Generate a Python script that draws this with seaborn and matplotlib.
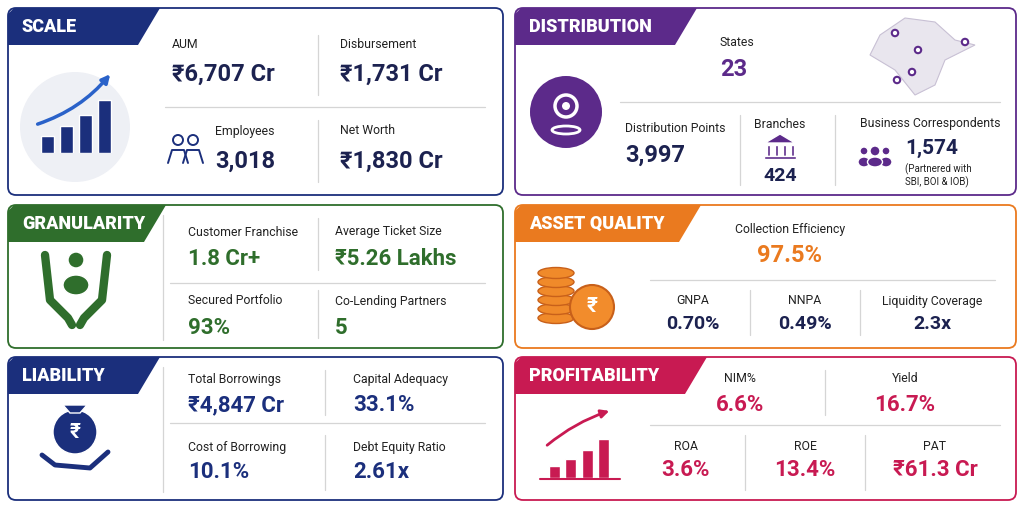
import matplotlib
matplotlib.use("Agg")
import matplotlib.pyplot as plt
import seaborn as sns
import pandas as pd
from matplotlib.patches import FancyBboxPatch, Polygon, Circle, Rectangle, Ellipse

sns.set_theme(style="white")
plt.rcParams['font.family'] = ['Roboto', 'DejaVu Sans']

NAVY, PURPLE, GREEN, ORANGE, CRIMSON = "#1b2f7c", "#5c2a8a", "#2f6e2c", "#ea7a1f", "#c81a52"
DARK = "#1c2250"

panel_titles = ["SCALE", "DISTRIBUTION", "GRANULARITY", "ASSET QUALITY", "LIABILITY", "PROFITABILITY"]
scale_labels = ["AUM", "Disbursement", "Employees", "Net Worth"]
scale_values = ["₹6,707 Cr", "₹1,731 Cr", "3,018", "₹1,830 Cr"]
dist_labels = ["States", "Distribution Points", "Branches", "Business Correspondents"]
dist_values = ["23", "3,997", "424", "1,574"]
dist_note = "(Partnered with\nSBI, BOI & IOB)"
gran_labels = ["Customer Franchise", "Average Ticket Size", "Secured Portfolio", "Co-Lending Partners"]
gran_values = ["1.8 Cr+", "₹5.26 Lakhs", "93%", "5"]
aq_labels = ["Collection Efficiency", "GNPA", "NNPA", "Liquidity Coverage"]
aq_values = ["97.5%", "0.70%", "0.49%", "2.3x"]
liab_labels = ["Total Borrowings", "Capital Adequacy", "Cost of Borrowing", "Debt Equity Ratio"]
liab_values = ["₹4,847 Cr", "33.1%", "10.1%", "2.61x"]
prof_labels = ["NIM%", "Yield", "ROA", "ROE", "PAT"]
prof_values = ["6.6%", "16.7%", "3.6%", "13.4%", "₹61.3 Cr"]
icon_bars = [1.0, 1.6, 2.3, 3.2]

fig = plt.figure(figsize=(10.24, 5.12), dpi=100)
ax = fig.add_axes([0, 0, 1, 1])
ax.set_xlim(0, 1024); ax.set_ylim(512, 0); ax.axis("off")

def panel(x0, y0, x1, y1, color, title, tabw):
    ax.add_patch(FancyBboxPatch((x0, y0), x1 - x0, y1 - y0, boxstyle="round,pad=0,rounding_size=8",
                                fc="white", ec=color, lw=1.3, zorder=1))
    ax.add_patch(Polygon([(x0, y0 + 6), (x0 + 6, y0), (x0 + tabw, y0), (x0 + tabw - 22, y0 + 37), (x0, y0 + 37)],
                         closed=True, fc=color, ec="none", zorder=2))
    ax.text(x0 + 14, y0 + 19, title, color="white", fontsize=13, fontweight="heavy", va="center", zorder=3)

def lab(x, y, s, ha="left", size=8.8):
    ax.text(x, y, s, fontsize=size, color="#222", ha=ha, va="center", zorder=3)

def val(x, y, s, color, ha="left", size=16):
    ax.text(x, y, s, fontsize=size, color=color, ha=ha, va="center", fontweight="semibold", zorder=3)

def hl(x0, x1, y): ax.plot([x0, x1], [y, y], color="#d5d5d5", lw=0.9, zorder=2)
def vl(x, y0, y1): ax.plot([x, x], [y0, y1], color="#d5d5d5", lw=0.9, zorder=2)

# SCALE
panel(8, 8, 503, 195, NAVY, panel_titles[0], 152)
ax.add_patch(Circle((75, 127), 55, fc="#eef0f5", ec="none", zorder=2))
pos = [(172, 44), (340, 44), (215, 131), (340, 131)]
for (x, y), l, v in zip(pos, scale_labels, scale_values):
    lab(x, y, l); val(x, y + 30, v, DARK, size=17)
hl(165, 485, 107); vl(318, 35, 95); vl(318, 120, 182)
ax.add_patch(Circle((178, 140), 5, fc="none", ec=NAVY, lw=1.4, zorder=3))
ax.add_patch(Circle((193, 140), 5, fc="none", ec=NAVY, lw=1.4, zorder=3))
ax.plot([168, 172, 184, 188], [163, 150, 150, 163], color=NAVY, lw=1.4, zorder=3)
ax.plot([183, 187, 199, 203], [163, 150, 150, 163], color=NAVY, lw=1.4, zorder=3)
ax.annotate("", xy=(112, 72), xytext=(35, 125),
            arrowprops=dict(arrowstyle="-|>", color="#2a62c9", lw=2.5, connectionstyle="arc3,rad=0.15"), zorder=4)

# DISTRIBUTION
panel(515, 8, 1016, 195, PURPLE, panel_titles[1], 182)
lab(720, 42, dist_labels[0]); val(720, 70, dist_values[0], PURPLE, size=17)
ax.add_patch(Polygon([(880, 35), (905, 18), (935, 22), (955, 40), (975, 45), (945, 60), (935, 85), (915, 95), (895, 70), (870, 55)],
                     fc="#e9e6ee", ec="#c8c0d4", lw=0.8, zorder=2))
for px, py in [(895, 33), (918, 50), (965, 42), (912, 72), (897, 80)]:
    ax.add_patch(Circle((px, py), 3.2, fc="white", ec=PURPLE, lw=1.5, zorder=3))
ax.add_patch(Circle((566, 112), 36, fc=PURPLE, ec="none", zorder=2))
ax.add_patch(Circle((566, 106), 11, fc="none", ec="white", lw=2.5, zorder=3))
ax.add_patch(Circle((566, 106), 4, fc="white", ec="none", zorder=3))
ax.add_patch(Ellipse((566, 130), 28, 8, fc="none", ec="white", lw=2, zorder=3))
hl(620, 1000, 102); vl(740, 115, 185); vl(835, 115, 185)
lab(625, 128, dist_labels[1]); val(625, 155, dist_values[1], DARK, size=17)
lab(780, 124, dist_labels[2], ha="center"); val(780, 176, dist_values[2], DARK, ha="center", size=14)
ax.add_patch(Polygon([(765, 143), (780, 134), (795, 143)], fc=PURPLE, zorder=3))
for bx in [768, 776, 784, 792]:
    ax.add_patch(Rectangle((bx - 1.5, 145), 3, 11, fc=PURPLE, zorder=3))
ax.add_patch(Rectangle((764, 156), 32, 3, fc=PURPLE, zorder=3))
lab(860, 124, dist_labels[3])
for cx, r in [(864, 4), (886, 4), (875, 5)]:
    ax.add_patch(Circle((cx, 151), r, fc=PURPLE, zorder=3))
    ax.add_patch(Ellipse((cx, 162), r * 3, 10, fc=PURPLE, zorder=3))
val(905, 148, dist_values[3], DARK, size=15)
ax.text(905, 176, dist_note, fontsize=7, color="#222", va="center", zorder=3)

# GRANULARITY
panel(8, 205, 503, 348, GREEN, panel_titles[2], 158)
vl(163, 215, 340); vl(318, 218, 270); vl(318, 290, 338); hl(170, 485, 283)
pos = [(188, 232), (335, 232), (188, 301), (335, 301)]
for (x, y), l, v in zip(pos, gran_labels, gran_values):
    lab(x, y, l); val(x, y + 27, v, GREEN, size=16)
ax.add_patch(Circle((76, 260), 8, fc=GREEN, zorder=3))
ax.add_patch(Ellipse((76, 285), 26, 20, fc=GREEN, zorder=3))
ax.plot([45, 50, 68, 72], [255, 300, 318, 325], color=GREEN, lw=6, solid_capstyle="round", zorder=3)
ax.plot([107, 102, 84, 80], [255, 300, 318, 325], color=GREEN, lw=6, solid_capstyle="round", zorder=3)

# ASSET QUALITY
panel(515, 205, 1016, 348, ORANGE, panel_titles[3], 186)
lab(790, 230, aq_labels[0], ha="center"); val(790, 255, aq_values[0], ORANGE, ha="center", size=17)
hl(650, 995, 280); vl(750, 290, 335); vl(860, 290, 335)
for x, l, v in zip([693, 805, 932], aq_labels[1:], aq_values[1:]):
    lab(x, 301, l, ha="center"); val(x, 324, v, DARK, ha="center", size=14)
for i in range(6):
    ax.add_patch(Ellipse((556, 318 - i * 9), 36, 11, fc="#f08a2a", ec="#c8601a", lw=1, zorder=3))
ax.add_patch(Circle((592, 307), 22, fc="#f28c2c", ec="#c8601a", lw=1.5, zorder=4))
ax.text(592, 307, "₹", fontsize=15, color="white", ha="center", va="center", fontweight="bold", zorder=5)

# LIABILITY
panel(8, 357, 503, 500, NAVY, panel_titles[4], 152)
vl(163, 367, 492); vl(325, 370, 415); vl(325, 435, 490); hl(170, 485, 423)
pos = [(188, 380), (353, 380), (188, 447), (353, 447)]
for (x, y), l, v in zip(pos, liab_labels, liab_values):
    lab(x, y, l); val(x, y + 25, v, NAVY, size=16)
ax.add_patch(Ellipse((75, 432), 44, 44, fc=NAVY, zorder=3))
ax.add_patch(Polygon([(63, 405), (87, 405), (80, 413), (70, 413)], fc=NAVY, zorder=3))
ax.text(75, 433, "₹", fontsize=15, color="white", ha="center", va="center", fontweight="bold", zorder=4)
ax.plot([42, 55, 90, 108], [455, 465, 468, 452], color=NAVY, lw=3.5, zorder=3)

# PROFITABILITY
panel(515, 357, 1016, 500, CRIMSON, panel_titles[5], 192)
for x, l, v in zip([740, 905], prof_labels[:2], prof_values[:2]):
    lab(x, 378, l, ha="center"); val(x, 405, v, CRIMSON, ha="center", size=16)
vl(825, 370, 415); hl(650, 1000, 425); vl(745, 435, 490); vl(865, 435, 490)
for x, l, v in zip([686, 805, 935], prof_labels[2:], prof_values[2:]):
    lab(x, 447, l, ha="center"); val(x, 470, v, CRIMSON, ha="center", size=16)
ax.annotate("", xy=(612, 410), xytext=(545, 447),
            arrowprops=dict(arrowstyle="-|>", color=CRIMSON, lw=2, connectionstyle="arc3,rad=-0.1"), zorder=4)
ax.plot([540, 620], [479, 479], color=CRIMSON, lw=1.5, zorder=3)

# seaborn bar icons
df = pd.DataFrame({"k": list("abcd"), "v": icon_bars})
for rect, col in [([38 / 1024, 1 - 153 / 512, 76 / 1024, 55 / 512], NAVY),
                  ([546 / 1024, 1 - 478 / 512, 66 / 1024, 40 / 512], CRIMSON)]:
    ia = fig.add_axes(rect)
    sns.barplot(data=df, x="k", y="v", color=col, ax=ia, width=0.65, saturation=1)
    ia.set_ylim(0, 3.3); ia.axis("off"); ia.patch.set_alpha(0)

fig.savefig("out.png", dpi=100, facecolor="white")
